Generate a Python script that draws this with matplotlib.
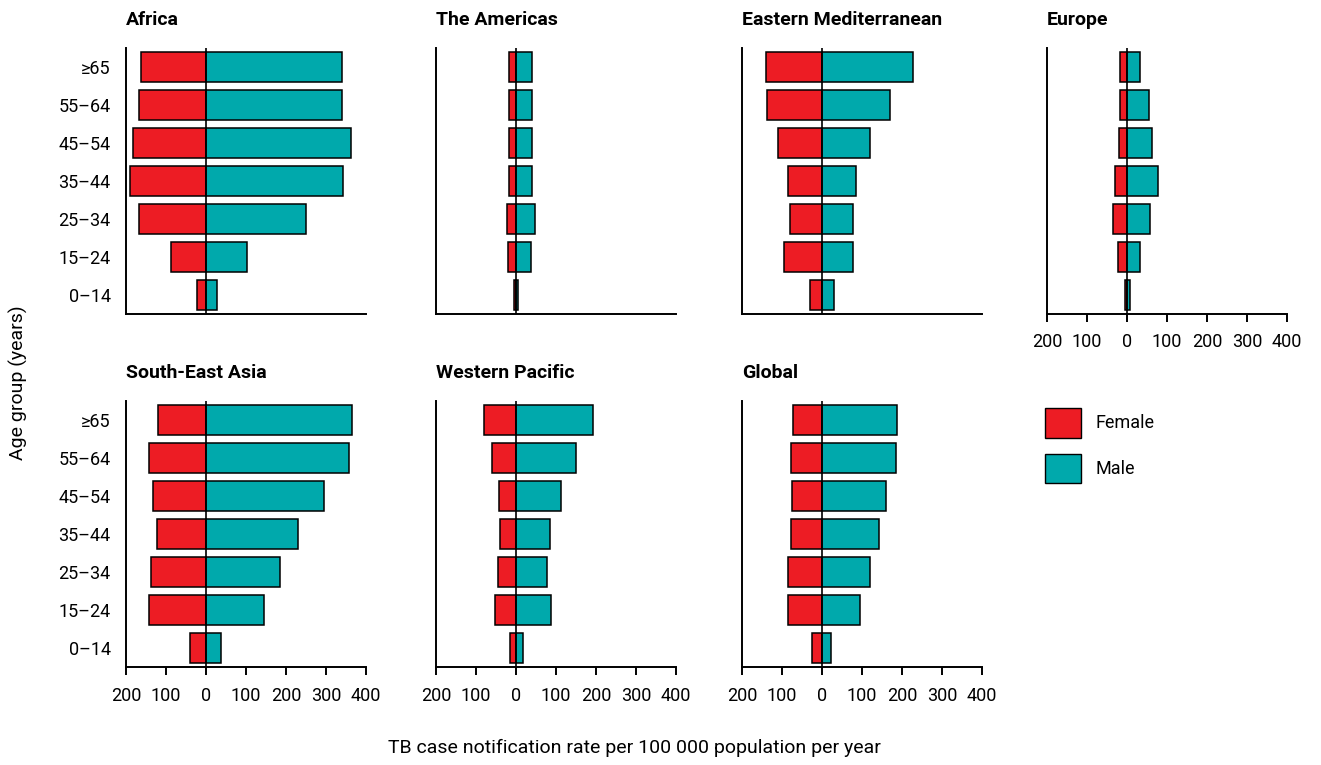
import matplotlib
matplotlib.use('Agg')
import matplotlib.pyplot as plt
from matplotlib.patches import Patch
from matplotlib.ticker import FuncFormatter
import numpy as np

plt.rcParams['font.family'] = ['Roboto', 'DejaVu Sans']

# age groups, bottom to top
age_groups = ["0–14", "15–24", "25–34", "35–44", "45–54", "55–64", "≥65"]

regions = ["Africa", "The Americas", "Eastern Mediterranean", "Europe",
           "South-East Asia", "Western Pacific", "Global"]

# notification rates per 100 000, same order as age_groups
female = {
    "Africa": [23, 88, 168, 189, 182, 168, 162],
    "The Americas": [4, 20, 22, 18, 18, 18, 18],
    "Eastern Mediterranean": [30, 94, 81, 86, 110, 137, 141],
    "Europe": [5, 23, 34, 29, 20, 18, 18],
    "South-East Asia": [39, 143, 137, 122, 132, 143, 119],
    "Western Pacific": [14, 53, 46, 40, 43, 59, 81],
    "Global": [25, 84, 86, 78, 74, 78, 72],
}
male = {
    "Africa": [27, 103, 249, 343, 362, 339, 339],
    "The Americas": [6, 38, 47, 40, 39, 40, 40],
    "Eastern Mediterranean": [29, 78, 78, 85, 120, 170, 227],
    "Europe": [8, 32, 58, 78, 63, 55, 33],
    "South-East Asia": [38, 145, 186, 229, 295, 358, 365],
    "Western Pacific": [17, 88, 78, 85, 113, 150, 192],
    "Global": [23, 96, 121, 143, 161, 184, 187],
}

red = "#ED1C24"
teal = "#00A9AC"

fig = plt.figure(figsize=(13.21, 7.65), dpi=100)

lefts = [0.0954, 0.330, 0.5617, 0.7926]
bottoms = [0.5895, 0.128]
w, h = 0.1817, 0.3477

y = np.arange(len(age_groups))
for idx, name in enumerate(regions):
    row, col = divmod(idx, 4)
    ax = fig.add_axes([lefts[col], bottoms[row], w, h])
    ax.barh(y, -np.array(female[name]), height=0.77, color=red,
            edgecolor="black", linewidth=1.1)
    ax.barh(y, male[name], height=0.77, color=teal,
            edgecolor="black", linewidth=1.1)
    ax.axvline(0, color="black", linewidth=1.2)
    ax.set_xlim(-200, 400)
    ax.set_ylim(-0.5, 6.5)
    for s in ["top", "right"]:
        ax.spines[s].set_visible(False)
    for s in ["left", "bottom"]:
        ax.spines[s].set_linewidth(1.4)
    ax.set_xticks([-200, -100, 0, 100, 200, 300, 400])
    ax.xaxis.set_major_formatter(FuncFormatter(lambda v, p: f"{abs(int(v))}"))
    ax.tick_params(axis="x", length=6, width=1.4, labelsize=13, pad=8)
    if row == 0 and name != "Europe":
        ax.tick_params(axis="x", length=0, labelbottom=False)
    ax.set_yticks(y)
    if col == 0:
        ax.set_yticklabels(age_groups, fontsize=13)
        ax.tick_params(axis="y", length=0, pad=11)
    else:
        ax.tick_params(axis="y", length=0, labelleft=False)
    ax.set_title(name, loc="left", fontsize=14, fontweight="bold", pad=16.5)

handles = [Patch(facecolor=red, edgecolor="black", label="Female"),
           Patch(facecolor=teal, edgecolor="black", label="Male")]
fig.legend(handles=handles, loc="upper left", bbox_to_anchor=(0.7787, 0.488),
           frameon=False, fontsize=13, handlelength=2.0, handleheight=2.15,
           labelspacing=0.89, handletextpad=0.78)

fig.text(0.014, 0.5, "Age group (years)", rotation=90, va="center",
         ha="center", fontsize=14)
fig.text(0.48, 0.022, "TB case notification rate per 100 000 population per year",
         ha="center", va="center", fontsize=14)

fig.savefig("out.png", dpi=100)
